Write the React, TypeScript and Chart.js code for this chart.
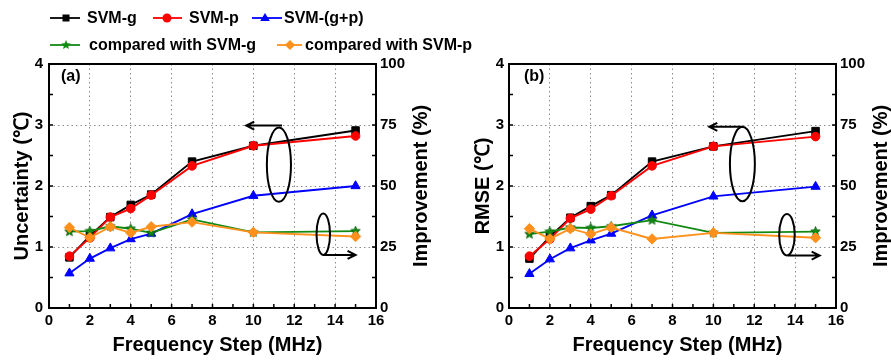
import React, { useEffect, useRef } from "react";
import { Chart, registerables } from "chart.js";

Chart.register(...registerables);

// ---------------- data ----------------
const freqSteps = [1, 2, 3, 4, 5, 7, 10, 15];

// panel (a): Uncertainty (℃) and improvement (%)
const uncSvmG = [0.83, 1.18, 1.49, 1.69, 1.86, 2.4, 2.66, 2.91];
const uncSvmP = [0.85, 1.15, 1.49, 1.63, 1.85, 2.33, 2.66, 2.82];
const uncSvmGP = [0.57, 0.81, 0.98, 1.13, 1.22, 1.54, 1.84, 2.0];
const uncImpG = [31.3, 31.5, 33.5, 32.5, 30.8, 36.3, 31.0, 31.5];
const uncImpP = [33.0, 28.8, 33.3, 30.8, 33.3, 35.2, 31.0, 29.3];

// panel (b): RMSE (℃) and improvement (%)
const rmseSvmG = [0.81, 1.17, 1.48, 1.67, 1.85, 2.4, 2.65, 2.9];
const rmseSvmP = [0.85, 1.13, 1.47, 1.62, 1.84, 2.33, 2.65, 2.81];
const rmseSvmGP = [0.56, 0.8, 0.98, 1.11, 1.22, 1.52, 1.83, 1.99];
const rmseImpG = [30.3, 31.3, 33.0, 32.8, 33.5, 36.0, 30.8, 31.3];
const rmseImpP = [32.5, 28.3, 32.5, 30.3, 33.0, 28.3, 30.8, 28.8];

const seriesLabels = [
  "SVM-g",
  "SVM-p",
  "SVM-(g+p)",
  "compared with SVM-g",
  "compared with SVM-p",
];

const xTitle = "Frequency Step (MHz)";
const y1Title = "Improvement (%)";

const xMinorTicks = [1, 2, 3, 4, 5, 6, 7, 8, 9, 10, 11, 12, 13, 14, 15];
const yMinorTicks = [0.5, 1, 1.5, 2, 2.5, 3, 3.5];

// ---------------- styles ----------------
const FONT = "'Liberation Sans', Arial, Helvetica, sans-serif";
const COLORS = ["#000000", "#ff0000", "#0000ff", "#128a12", "#ff901c"];

function makeStar(size: number, fill: string, stroke: string) {
  const c = document.createElement("canvas");
  c.width = size;
  c.height = size;
  const ctx = c.getContext("2d")!;
  const R = size / 2 - 0.5;
  const r = R * 0.45;
  ctx.beginPath();
  for (let i = 0; i < 10; i++) {
    const ang = -Math.PI / 2 + (i * Math.PI) / 5;
    const rad = i % 2 === 0 ? R : r;
    const px = size / 2 + rad * Math.cos(ang);
    const py = size / 2 + rad * Math.sin(ang);
    if (i === 0) ctx.moveTo(px, py);
    else ctx.lineTo(px, py);
  }
  ctx.closePath();
  ctx.fillStyle = fill;
  ctx.fill();
  ctx.strokeStyle = stroke;
  ctx.lineWidth = 0.8;
  ctx.stroke();
  return c;
}

const annotPlugin = {
  id: "annot",
  afterDraw(chart: any, _args: any, opts: any) {
    const { ctx, chartArea: a, scales } = chart;
    const xs = scales.x;
    const ys = scales.y;
    ctx.save();
    ctx.strokeStyle = "#000";
    ctx.lineWidth = 1.5;
    ctx.beginPath();
    for (const v of xMinorTicks) {
      const px = xs.getPixelForValue(v);
      ctx.moveTo(px, a.bottom);
      ctx.lineTo(px, a.bottom - 4);
    }
    for (const v of yMinorTicks) {
      const py = ys.getPixelForValue(v);
      ctx.moveTo(a.left, py);
      ctx.lineTo(a.left + 4, py);
      ctx.moveTo(a.right, py);
      ctx.lineTo(a.right - 4, py);
    }
    ctx.stroke();
    ctx.lineWidth = 2;
    ctx.strokeRect(a.left, a.top, a.right - a.left, a.bottom - a.top);

    ctx.fillStyle = "#000";
    ctx.font = `bold 16px ${FONT}`;
    ctx.textBaseline = "middle";
    ctx.textAlign = "left";
    ctx.fillText(opts.label, a.left + opts.labelDx, a.top + 13);

    // x-axis title
    ctx.font = `bold 20px ${FONT}`;
    ctx.textAlign = "center";
    ctx.fillText(xTitle, (a.left + a.right) / 2 + 5, 345);

    // right-axis title, reading bottom-to-top
    ctx.save();
    ctx.translate(opts.rightTitleX, (a.top + a.bottom) / 2);
    ctx.rotate(-Math.PI / 2);
    ctx.fillText(y1Title, 0, 0);
    ctx.restore();

    ctx.lineWidth = 2;
    for (const e of opts.ellipses) {
      const cx = xs.getPixelForValue(e.cx);
      const cy = ys.getPixelForValue(e.cy);
      const rx = Math.abs(xs.getPixelForValue(e.cx + e.rx) - cx);
      const ry = Math.abs(ys.getPixelForValue(e.cy + e.ry) - cy);
      ctx.beginPath();
      ctx.ellipse(cx, cy, rx, ry, 0, 0, Math.PI * 2);
      ctx.stroke();
      const x0 = xs.getPixelForValue(e.ax0);
      const x1 = xs.getPixelForValue(e.ax1);
      const ay = ys.getPixelForValue(e.ay);
      const dir = Math.sign(x1 - x0);
      ctx.beginPath();
      ctx.moveTo(x0, ay);
      ctx.lineTo(x1, ay);
      ctx.moveTo(x1 - dir * 8, ay - 4);
      ctx.lineTo(x1, ay);
      ctx.lineTo(x1 - dir * 8, ay + 4);
      ctx.stroke();
    }
    ctx.restore();
  },
};

type PanelCfg = {
  g: number[];
  p: number[];
  gp: number[];
  impG: number[];
  impP: number[];
  yTitle: string;
  label: string;
  labelDx: number;
  leftW: number;
  rightW: number;
  leftTitlePad: number;
  rightTitleX: number;
  leftTickPad: number;
  rightTickPad: number;
  ellipses: any[];
};

function buildConfig(cfg: PanelCfg, star: HTMLCanvasElement): any {
  const pts = (arr: number[]) => freqSteps.map((x, i) => ({ x, y: arr[i] }));
  const ds = (
    idx: number,
    data: number[],
    pointStyle: any,
    radius: number,
    yAxisID: string,
    order: number
  ) => ({
    label: seriesLabels[idx],
    data: pts(data),
    borderColor: COLORS[idx],
    backgroundColor: COLORS[idx],
    pointBackgroundColor: COLORS[idx],
    pointBorderColor: COLORS[idx],
    pointStyle,
    pointRadius: radius,
    pointBorderWidth: 1,
    borderWidth: 1.9,
    yAxisID,
    order,
    tension: 0,
  });
  const gridColor = (edgeVals: number[]) => (ctx: any) =>
    ctx.tick && edgeVals.includes(ctx.tick.value) ? "rgba(0,0,0,0)" : "#8c8c8c";
  return {
    type: "line",
    data: {
      datasets: [
        ds(0, cfg.g, "rect", 5.3, "y", 4),
        ds(1, cfg.p, "circle", 4.3, "y", 3),
        ds(2, cfg.gp, "triangle", 5.3, "y", 5),
        ds(3, cfg.impG, star, 5, "y1", 2),
        ds(4, cfg.impP, "rectRot", 5.2, "y1", 1),
      ],
    },
    options: {
      animation: false,
      responsive: false,
      events: [],
      layout: { padding: { top: 64, left: 0, right: 0, bottom: 0 } },
      plugins: {
        legend: { display: false },
        tooltip: { enabled: false },
        annot: {
          label: cfg.label,
          labelDx: cfg.labelDx,
          ellipses: cfg.ellipses,
          rightTitleX: cfg.rightTitleX,
        },
      },
      scales: {
        x: {
          type: "linear",
          min: 0,
          max: 16,
          afterFit: (s: any) => {
            s.height = 52;
          },
          ticks: {
            stepSize: 2,
            color: "#000",
            padding: 4,
            font: { family: FONT, size: 15, weight: "bold" },
          },
          grid: { drawTicks: false, color: gridColor([0, 16]), lineWidth: 1 },
          border: { display: false, dash: [1.5, 3] },
          title: { display: false },
        },
        y: {
          type: "linear",
          position: "left",
          min: 0,
          max: 4,
          afterFit: (s: any) => {
            s.width = cfg.leftW;
          },
          ticks: {
            stepSize: 1,
            color: "#000",
            padding: cfg.leftTickPad,
            font: { family: FONT, size: 15, weight: "bold" },
          },
          grid: { drawTicks: false, color: gridColor([0, 4]), lineWidth: 1 },
          border: { display: false, dash: [1.5, 3] },
          title: {
            display: true,
            text: cfg.yTitle,
            color: "#000",
            font: { family: FONT, size: 20, weight: "bold" },
            padding: { top: cfg.leftTitlePad, bottom: 0 },
          },
        },
        y1: {
          type: "linear",
          position: "right",
          min: 0,
          max: 100,
          afterFit: (s: any) => {
            s.width = cfg.rightW;
          },
          ticks: {
            stepSize: 25,
            color: "#000",
            padding: cfg.rightTickPad,
            font: { family: FONT, size: 15, weight: "bold" },
          },
          grid: { display: false, drawTicks: false },
          border: { display: false },
          title: { display: false },
        },
      },
    },
    plugins: [annotPlugin],
  };
}

function Panel({ cfg, width }: { cfg: PanelCfg; width: number }) {
  const ref = useRef<HTMLCanvasElement>(null);
  useEffect(() => {
    if (!ref.current) return;
    const star = makeStar(11, COLORS[3], "#0b5e0b");
    const chart = new Chart(ref.current, buildConfig(cfg, star));
    return () => chart.destroy();
  }, []);
  return (
    <canvas
      ref={ref}
      width={width}
      height={360}
      style={{ display: "block", width, height: 360 }}
    />
  );
}

const panelA: PanelCfg = {
  g: uncSvmG,
  p: uncSvmP,
  gp: uncSvmGP,
  impG: uncImpG,
  impP: uncImpP,
  yTitle: "Uncertainty (℃)",
  label: "(a)",
  labelDx: 12,
  leftW: 49,
  rightW: 69,
  leftTitlePad: 10,
  rightTitleX: 421,
  leftTickPad: 6,
  rightTickPad: 4,
  ellipses: [
    { cx: 11.25, cy: 2.35, rx: 0.59, ry: 0.61, ax0: 11.4, ax1: 9.65, ay: 2.99 },
    { cx: 13.42, cy: 1.21, rx: 0.33, ry: 0.34, ax0: 13.42, ax1: 15.0, ay: 0.87 },
  ],
};

const panelB: PanelCfg = {
  g: rmseSvmG,
  p: rmseSvmP,
  gp: rmseSvmGP,
  impG: rmseImpG,
  impP: rmseImpP,
  yTitle: "RMSE (℃)",
  label: "(b)",
  labelDx: 15,
  leftW: 64,
  rightW: 55,
  leftTitlePad: 26,
  rightTitleX: 436,
  leftTickPad: 5,
  rightTickPad: 4,
  ellipses: [
    { cx: 11.42, cy: 2.36, rx: 0.61, ry: 0.61, ax0: 11.45, ax1: 9.8, ay: 2.97 },
    { cx: 13.6, cy: 1.2, rx: 0.38, ry: 0.34, ax0: 13.65, ax1: 15.2, ay: 0.86 },
  ],
};

// ---------------- legend (HTML + SVG) ----------------
type LegendItem = { idx: number; marker: string; x1: number; x2: number; mx: number; tx: number; y: number };
const legendItems: LegendItem[] = [
  { idx: 0, marker: "square", x1: 50, x2: 80, mx: 66, tx: 87, y: 18 },
  { idx: 1, marker: "circle", x1: 153, x2: 182, mx: 167, tx: 189, y: 18 },
  { idx: 2, marker: "triangle", x1: 252, x2: 282, mx: 265, tx: 284, y: 18 },
  { idx: 3, marker: "star", x1: 50, x2: 80, mx: 66, tx: 89, y: 45 },
  { idx: 4, marker: "diamond", x1: 277, x2: 302, mx: 290, tx: 305, y: 45 },
];

function starPoints(cx: number, cy: number, R: number) {
  const r = R * 0.45;
  const out: string[] = [];
  for (let i = 0; i < 10; i++) {
    const ang = -Math.PI / 2 + (i * Math.PI) / 5;
    const rad = i % 2 === 0 ? R : r;
    out.push(`${cx + rad * Math.cos(ang)},${cy + rad * Math.sin(ang)}`);
  }
  return out.join(" ");
}

function Marker({ it }: { it: LegendItem }) {
  const c = COLORS[it.idx];
  const { mx, y } = it;
  switch (it.marker) {
    case "square":
      return <rect x={mx - 3.5} y={y - 3.5} width={7} height={7} fill={c} />;
    case "circle":
      return <circle cx={mx} cy={y} r={4.5} fill={c} />;
    case "triangle":
      return <polygon points={`${mx},${y - 5} ${mx + 4.8},${y + 3} ${mx - 4.8},${y + 3}`} fill={c} />;
    case "star":
      return <polygon points={starPoints(mx, y, 5)} fill={c} />;
    default:
      return <polygon points={`${mx},${y - 5} ${mx + 5},${y} ${mx},${y + 5} ${mx - 5},${y}`} fill={c} />;
  }
}

function Legend() {
  return (
    <>
      <svg
        width={891}
        height={60}
        style={{ position: "absolute", left: 0, top: 0 }}
      >
        {legendItems.map((it) => (
          <g key={it.idx}>
            <line x1={it.x1} x2={it.x2} y1={it.y} y2={it.y} stroke={COLORS[it.idx]} strokeWidth={1.8} />
            <Marker it={it} />
          </g>
        ))}
      </svg>
      {legendItems.map((it) => (
        <span
          key={"t" + it.idx}
          style={{
            position: "absolute",
            left: it.tx,
            top: it.y - 10,
            lineHeight: "20px",
            fontFamily: FONT,
            fontWeight: "bold",
            fontSize: 16,
            color: "#000",
            whiteSpace: "nowrap",
          }}
        >
          {seriesLabels[it.idx]}
        </span>
      ))}
    </>
  );
}

export default function App() {
  return (
    <div
      style={{
        position: "absolute",
        left: 0,
        top: 0,
        width: 891,
        height: 360,
        background: "#fff",
        overflow: "hidden",
      }}
    >
      <div style={{ position: "absolute", left: 0, top: 0 }}>
        <Panel cfg={panelA} width={445} />
      </div>
      <div style={{ position: "absolute", left: 445, top: 0 }}>
        <Panel cfg={panelB} width={446} />
      </div>
      <Legend />
    </div>
  );
}
